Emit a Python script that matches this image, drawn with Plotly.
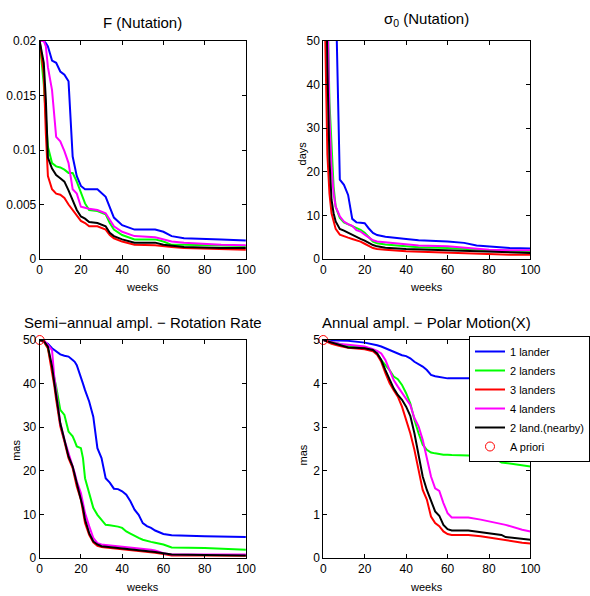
import plotly.graph_objects as go

# ---------------- data ----------------
series_names = ["1 lander", "2 landers", "3 landers", "4 landers", "2 land.(nearby)"]
series_colors = ["#0000FF", "#00FF00", "#FF0000", "#FF00FF", "#000000"]

# Panel 1: F (Nutation)
weeks_f = [0, 2, 3, 4, 6, 8, 10, 12, 14, 16, 18, 20, 22, 24, 28, 32, 34, 36, 40, 46, 56, 60, 64, 70, 88, 100]
f_1lander = [0.02, 0.02, 0.0198, 0.0195, 0.0182, 0.018, 0.0172, 0.0169, 0.0163, 0.0094, 0.0076, 0.0067, 0.0064,
             0.0064, 0.0064, 0.0057, 0.0048, 0.0038, 0.0031, 0.0027, 0.0027, 0.0025, 0.0021, 0.0019, 0.0018, 0.0017]
f_2landers = [0.02, 0.016, 0.013, 0.0103, 0.0088, 0.0085, 0.0084, 0.0082, 0.0079, 0.0079, 0.0071, 0.006, 0.0051,
              0.0045, 0.0044, 0.0041, 0.0033, 0.0027, 0.0022, 0.0018, 0.0018, 0.0016, 0.0013, 0.0013, 0.0012, 0.0012]
f_3landers = [0.02, 0.017, 0.0115, 0.0076, 0.0064, 0.006, 0.0059, 0.0056, 0.005, 0.0045, 0.0039, 0.0035, 0.0033,
              0.003, 0.003, 0.0027, 0.0022, 0.0019, 0.0016, 0.0013, 0.00125, 0.0012, 0.0011, 0.001, 0.0009, 0.00085]
f_4landers = [0.02, 0.02, 0.0195, 0.0176, 0.0155, 0.0112, 0.0108, 0.0099, 0.0088, 0.0064, 0.006, 0.0048, 0.0047,
              0.0046, 0.0045, 0.0042, 0.0036, 0.003, 0.0025, 0.0021, 0.002, 0.0018, 0.0016, 0.0015, 0.0013, 0.00125]
f_nearby = [0.02, 0.018, 0.0146, 0.0093, 0.0083, 0.0077, 0.0074, 0.0071, 0.0063, 0.0054, 0.0045, 0.0039, 0.0037,
            0.0034, 0.0033, 0.003, 0.0024, 0.0021, 0.0018, 0.0015, 0.0015, 0.0013, 0.0012, 0.0011, 0.001, 0.001]

# Panel 2: sigma0 (Nutation), days
weeks_s = [0, 1, 2, 3, 4, 5, 6, 8, 10, 12, 14, 16, 18, 20, 22, 24, 26, 30, 40, 46, 60, 68, 74, 80, 90, 100]
s_1lander = [600, 500, 400, 300, 200, 120, 62, 18.2, 17, 14.7, 9.2, 8.4, 8.3, 8.2, 7.0, 6.0, 5.5, 5.1, 4.6, 4.3, 4.0,
             3.7, 3.1, 2.9, 2.5, 2.4]
s_2landers = [400, 120, 60, 36, 25, 16.6, 12, 9.4, 8.4, 8.0, 7.5, 7.1, 6.7, 6.0, 5.0, 4.0, 3.6, 3.3, 2.9, 2.7, 2.5,
              2.4, 2.2, 2.0, 1.9, 1.8]
s_3landers = [400, 50, 24, 15, 10.5, 8.3, 6.9, 5.6, 5.2, 4.9, 4.6, 4.3, 4.0, 3.5, 2.9, 2.5, 2.3, 2.1, 1.8, 1.7, 1.4,
              1.3, 1.2, 1.1, 1.0, 1.0]
s_4landers = [400, 120, 60, 32.7, 21, 15, 12, 9.8, 8.6, 8.0, 7.6, 6.6, 6.3, 5.6, 5.0, 4.3, 4.0, 3.8, 3.3, 3.1, 2.9,
              2.6, 2.3, 2.1, 2.0, 2.0]
s_nearby = [400, 80, 44, 22.7, 13.6, 10.5, 8.6, 6.9, 6.5, 6.0, 5.6, 5.1, 4.6, 4.2, 3.7, 3.2, 2.9, 2.6, 2.3, 2.2, 2.0,
            1.8, 1.7, 1.6, 1.5, 1.4]

# Panel 3: Semi-annual amplitude - Rotation Rate, mas
weeks_r = [0, 2, 4, 6, 7, 8, 10, 12, 14, 16, 17, 18, 20, 21, 22, 24, 26, 28, 30, 32, 34, 36, 38, 40, 42, 44, 46, 48,
           50, 52, 54, 56, 60, 64, 80, 100]
r_1lander = [50, 49.6, 49.1, 48.1, 47.7, 47.3, 46.7, 46.4, 46.2, 45.4, 45.0, 44.2, 41.6, 40.0, 38.5, 35.9, 32.4, 25.2,
             22.9, 18.3, 17.3, 15.9, 15.8, 15.3, 14.5, 13.0, 11.1, 9.9, 8.0, 7.3, 6.9, 6.3, 5.5, 5.2, 5.0, 4.8]
r_2landers = [50, 49.8, 48.1, 43.9, 41.5, 39.3, 34.0, 32.8, 29.0, 27.9, 26.8, 25.6, 25.2, 22.9, 18.3, 14.9, 11.5, 9.9,
              8.8, 7.6, 7.5, 7.4, 7.2, 6.9, 6.1, 5.6, 5.0, 4.6, 4.2, 3.9, 3.7, 3.5, 3.1, 2.4, 2.3, 1.9]
r_3landers = [50, 49.6, 48.1, 43.1, 39.8, 36.3, 30.2, 26.7, 22.9, 20.6, 18.5, 16.4, 13.4, 11.0, 8.0, 5.3, 3.6, 2.8,
              2.5, 2.4, 2.3, 2.3, 2.2, 2.1, 2.0, 1.9, 1.8, 1.6, 1.5, 1.4, 1.3, 1.2, 0.9, 0.6, 0.55, 0.5]
r_4landers = [50, 50, 48.9, 47.7, 42.0, 37.8, 30.9, 27.1, 24.0, 21.4, 19.5, 17.6, 14.9, 12.6, 10.3, 7.3, 4.6, 3.4,
              3.1, 3.0, 2.9, 2.8, 2.8, 2.7, 2.6, 2.5, 2.3, 2.2, 2.1, 2.0, 1.9, 1.7, 1.1, 0.8, 0.8, 0.8]
r_nearby = [50, 49.8, 48.5, 43.9, 40.5, 37.0, 30.9, 27.1, 23.3, 21.0, 19.1, 17.2, 14.1, 11.5, 8.8, 5.7, 3.8, 3.1, 2.7,
            2.6, 2.5, 2.5, 2.4, 2.3, 2.2, 2.1, 2.0, 1.8, 1.7, 1.6, 1.5, 1.4, 1.1, 0.8, 0.7, 0.6]

# Panel 4: Annual amplitude - Polar Motion (X), mas
weeks_p = [0, 4, 8, 12, 20, 24, 26, 28, 30, 32, 34, 36, 38, 40, 42, 44, 46, 48, 50, 52, 54, 56, 58, 60, 62, 70, 76,
           84, 86, 88, 96, 100]
p_1lander = [5, 4.99, 4.99, 4.98, 4.94, 4.91, 4.88, 4.85, 4.81, 4.77, 4.72, 4.68, 4.65, 4.63, 4.58, 4.5, 4.45, 4.39,
             4.31, 4.2, 4.17, 4.15, 4.13, 4.12, 4.12, 4.12, 4.12, 4.12, 4.12, 4.12, 4.12, 4.12]
p_2landers = [5, 4.96, 4.91, 4.86, 4.83, 4.77, 4.69, 4.54, 4.43, 4.31, 4.16, 4.1, 3.97, 3.78, 3.55, 3.17, 2.86, 2.6,
              2.48, 2.42, 2.4, 2.38, 2.37, 2.37, 2.36, 2.35, 2.33, 2.25, 2.19, 2.18, 2.13, 2.1]
p_3landers = [5, 4.91, 4.86, 4.82, 4.79, 4.74, 4.66, 4.5, 4.24, 4.01, 3.85, 3.7, 3.47, 3.17, 2.86, 2.48, 2.02, 1.56,
              1.34, 0.95, 0.8, 0.73, 0.61, 0.55, 0.53, 0.53, 0.5, 0.44, 0.42, 0.4, 0.35, 0.33]
p_4landers = [5, 4.96, 4.91, 4.89, 4.85, 4.79, 4.75, 4.69, 4.54, 4.31, 4.08, 3.93, 3.78, 3.63, 3.51, 3.21, 3.02, 2.71,
              2.25, 1.87, 1.6, 1.54, 1.26, 1.03, 0.93, 0.93, 0.88, 0.8, 0.78, 0.76, 0.65, 0.61]
p_nearby = [5, 4.94, 4.89, 4.83, 4.81, 4.77, 4.69, 4.54, 4.31, 4.08, 3.89, 3.74, 3.63, 3.47, 3.26, 2.86, 2.4, 1.87,
            1.56, 1.3, 1.07, 0.97, 0.76, 0.66, 0.63, 0.63, 0.59, 0.55, 0.53, 0.48, 0.44, 0.42]

apriori_weeks = [0]
apriori_rot = [50]
apriori_pm = [5]

panel_titles = ["F (Nutation)", "σ<sub>0</sub> (Nutation)",
                "Semi\u2212annual ampl. \u2212 Rotation Rate", "Annual ampl. \u2212 Polar Motion(X)"]

# ---------------- figure ----------------
W, H = 590, 596
FONT = "Liberation Sans, Arial, sans-serif"

def px_x(v):
    return v / W

def px_y(v):
    return 1 - v / H

fig = go.Figure()

panels = [
    (weeks_f, [f_1lander, f_2landers, f_3landers, f_4landers, f_nearby], "x", "y", None),
    (weeks_s, [s_1lander, s_2landers, s_3landers, s_4landers, s_nearby], "x2", "y2", None),
    (weeks_r, [r_1lander, r_2landers, r_3landers, r_4landers, r_nearby], "x3", "y3", apriori_rot),
    (weeks_p, [p_1lander, p_2landers, p_3landers, p_4landers, p_nearby], "x4", "y4", apriori_pm),
]

for pi, (wk, ys, xa, ya, apr) in enumerate(panels):
    for si, yv in enumerate(ys):
        fig.add_trace(go.Scatter(
            x=wk, y=yv, mode="lines", name=series_names[si],
            line=dict(color=series_colors[si], width=2),
            xaxis=xa, yaxis=ya, showlegend=(pi == 3), legendrank=si + 1,
        ))
    if apr is not None:
        fig.add_trace(go.Scatter(
            x=apriori_weeks, y=apr, mode="markers", name="A priori",
            marker=dict(symbol="circle-open", color="#FF0000", size=9, line=dict(width=1)),
            xaxis=xa, yaxis=ya, showlegend=(pi == 3), legendrank=6, cliponaxis=False,
        ))

xdom_l = [px_x(40), px_x(248)]
xdom_r = [px_x(326), px_x(535)]
ydom_t = [px_y(259), px_y(41)]
ydom_b = [px_y(558), px_y(340)]

axis_common = dict(showline=True, linecolor="black", linewidth=1, mirror="ticks", ticks="inside",
                   ticklen=4, tickcolor="black", showgrid=False, zeroline=False, automargin=False,
                   tickfont=dict(family=FONT, size=12, color="black"))

xcommon = dict(axis_common, range=[0, 100], tickvals=[0, 20, 40, 60, 80, 100])

fig.update_layout(
    template="none",
    width=W, height=H,
    margin=dict(l=0, r=0, t=0, b=0),
    paper_bgcolor="white", plot_bgcolor="white",
    font=dict(family=FONT, color="black"),
    xaxis=dict(xcommon, domain=xdom_l, anchor="y"),
    yaxis=dict(axis_common, domain=ydom_t, anchor="x", range=[0, 0.02],
               tickvals=[0, 0.005, 0.01, 0.015, 0.02], ticktext=["0", "0.005", "0.01", "0.015", "0.02"]),
    xaxis2=dict(xcommon, domain=xdom_r, anchor="y2"),
    yaxis2=dict(axis_common, domain=ydom_t, anchor="x2", range=[0, 50], tickvals=[0, 10, 20, 30, 40, 50]),
    xaxis3=dict(xcommon, domain=xdom_l, anchor="y3"),
    yaxis3=dict(axis_common, domain=ydom_b, anchor="x3", range=[0, 50], tickvals=[0, 10, 20, 30, 40, 50]),
    xaxis4=dict(xcommon, domain=xdom_r, anchor="y4"),
    yaxis4=dict(axis_common, domain=ydom_b, anchor="x4", range=[0, 5], tickvals=[0, 1, 2, 3, 4, 5]),
    legend=dict(x=px_x(473), y=px_y(336), xanchor="left", yanchor="top",
                bgcolor="white", bordercolor="black", borderwidth=1,
                font=dict(family=FONT, size=11, color="black"),
                itemwidth=30, tracegroupgap=0),
)

annotations = []
title_pos = [(144, 22), (430, 20), (144, 322), (430, 322)]
for t, (cx, cy) in zip(panel_titles, title_pos):
    annotations.append(dict(text=t, x=px_x(cx), y=px_y(cy), xref="paper", yref="paper",
                            showarrow=False, xanchor="center", yanchor="middle",
                            font=dict(family=FONT, size=15, color="black")))
for cx, cy in [(144, 287), (430, 287), (144, 587), (430, 587)]:
    annotations.append(dict(text="weeks", x=px_x(cx), y=px_y(cy), xref="paper", yref="paper",
                            showarrow=False, xanchor="center", yanchor="middle",
                            font=dict(family=FONT, size=11, color="black")))
for t, cx, cy in [("days", 305, 153), ("mas", 16, 450), ("mas", 306, 455)]:
    annotations.append(dict(text=t, x=px_x(cx), y=px_y(cy), xref="paper", yref="paper",
                            showarrow=False, xanchor="center", yanchor="middle", textangle=-90,
                            font=dict(family=FONT, size=11, color="black")))
fig.update_layout(annotations=annotations)

# remove the browser's default page margin so the figure sits at the window's corner
fig.write_html("out.html",
               config={"displayModeBar": False},
               post_script="document.body.style.margin='0';document.body.style.overflow='hidden';")
